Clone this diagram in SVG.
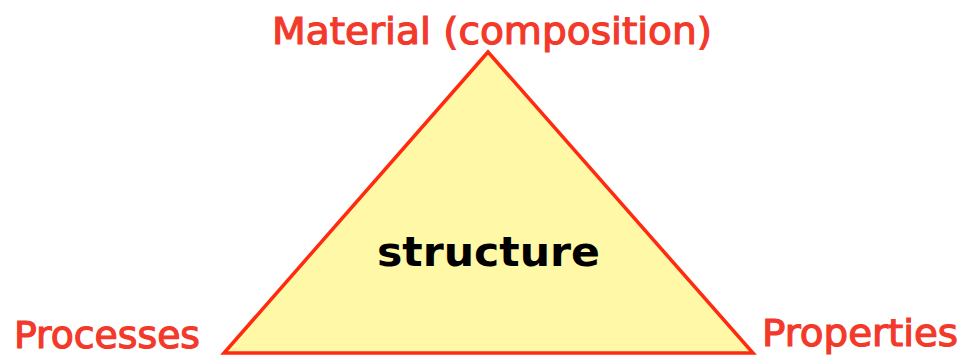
<svg xmlns="http://www.w3.org/2000/svg" width="967" height="356" viewBox="0 0 967 356">
<style>
.lbl{font-family:"DejaVu Sans","Liberation Sans",sans-serif;font-size:38px;fill:#F2392A;stroke:#F2392A;stroke-width:1.2;}
.main{font-family:"DejaVu Sans","Liberation Sans",sans-serif;font-size:40px;font-weight:bold;fill:#000;}
</style>
<rect width="967" height="356" fill="#fff"/>
<g id="triangle">
<polygon points="488,52 224,353 753,353" fill="#FFF8A6" stroke="#FF2A10" stroke-width="3.5" stroke-linejoin="miter"/>
<text class="main" x="377" y="266" textLength="223" lengthAdjust="spacingAndGlyphs">structure</text>
</g>
<g id="material">
<text class="lbl" x="272" y="44" textLength="440" lengthAdjust="spacingAndGlyphs">Material (composition)</text>
</g>
<g id="processes">
<text class="lbl" x="14" y="348" textLength="186" lengthAdjust="spacingAndGlyphs">Processes</text>
</g>
<g id="properties">
<text class="lbl" x="762" y="346" textLength="196" lengthAdjust="spacingAndGlyphs">Properties</text>
</g>
<g id="connectors"></g>
</svg>
